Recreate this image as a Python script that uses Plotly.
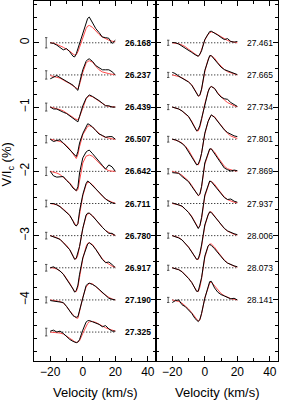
import plotly.graph_objects as go

# velocity grid (km/s)
VEL = [-20, -18, -16, -14, -12, -10, -8, -6, -5, -4, -3, -2, 0, 2, 3, 4, 6, 8, 10, 12, 14, 16, 18, 20]

# ---- left panel: observed (black) and model (red) Stokes V, in % ----
obs_26168 = [0, -0.01, -0.036, -0.07, -0.11, -0.09, -0.14, -0.21, -0.22, -0.17, -0.09, -0.01, 0.145, 0.33, 0.38, 0.40, 0.30, 0.22, 0.16, 0.09, 0.08, 0.07, -0.01, 0.04]
mod_26168 = [0, -0.005, -0.025, -0.045, -0.07, -0.1, -0.13, -0.175, -0.19, -0.185, -0.14, -0.07, 0.08, 0.22, 0.26, 0.27, 0.24, 0.18, 0.13, 0.09, 0.06, 0.04, 0.025, 0.015]
obs_26237 = [-0.06, -0.03, -0.01, -0.04, -0.07, -0.10, -0.12, -0.16, -0.19, -0.22, -0.24, -0.12, 0.08, 0.21, 0.24, 0.25, 0.21, 0.145, 0.11, 0.08, 0.08, 0.08, 0.05, 0]
mod_26237 = [-0.01, -0.02, -0.03, -0.05, -0.08, -0.105, -0.135, -0.17, -0.19, -0.21, -0.22, -0.15, 0.04, 0.18, 0.21, 0.22, 0.2, 0.135, 0.08, 0.047, 0.03, 0.02, 0.01, 0.005]
obs_26439 = [0, -0.03, -0.03, -0.06, -0.08, -0.10, -0.135, -0.165, -0.185, -0.21, -0.23, -0.145, 0.02, 0.135, 0.17, 0.19, 0.165, 0.135, 0.10, 0.06, 0.02, 0.02, 0, 0]
mod_26439 = [0, -0.01, -0.02, -0.04, -0.06, -0.09, -0.125, -0.16, -0.18, -0.19, -0.2, -0.155, 0, 0.125, 0.16, 0.175, 0.16, 0.125, 0.083, 0.047, 0.025, 0.01, 0.005, 0]
obs_26507 = [0, -0.036, -0.02, -0.01, -0.06, -0.115, -0.155, -0.22, -0.25, -0.27, -0.19, -0.06, 0.09, 0.19, 0.24, 0.23, 0.19, 0.135, 0.08, 0.06, 0.03, 0.04, 0.04, 0]
mod_26507 = [0, -0.01, -0.02, -0.035, -0.06, -0.1, -0.155, -0.23, -0.27, -0.3, -0.24, -0.115, 0.07, 0.17, 0.2, 0.21, 0.19, 0.135, 0.09, 0.05, 0.03, 0.015, 0.005, 0]
obs_26642 = [0, -0.07, -0.09, -0.08, -0.08, -0.14, -0.19, -0.26, -0.28, -0.30, -0.24, -0.025, 0.21, 0.30, 0.32, 0.33, 0.275, 0.21, 0.155, 0.095, 0.035, 0.10, 0.07, 0]
mod_26642 = [0, -0.01, -0.026, -0.05, -0.09, -0.13, -0.18, -0.245, -0.28, -0.305, -0.285, -0.13, 0.13, 0.235, 0.25, 0.255, 0.235, 0.18, 0.13, 0.08, 0.036, 0.01, 0.003, 0]
obs_26711 = [0, 0, -0.02, -0.05, -0.095, -0.135, -0.185, -0.275, -0.33, -0.35, -0.31, -0.12, 0.14, 0.31, 0.35, 0.33, 0.28, 0.22, 0.165, 0.115, 0.07, 0.036, 0.01, 0]
mod_26711 = [0, -0.005, -0.02, -0.045, -0.085, -0.13, -0.19, -0.27, -0.32, -0.35, -0.32, -0.16, 0.12, 0.29, 0.33, 0.33, 0.29, 0.23, 0.17, 0.115, 0.07, 0.04, 0.02, 0.005]
obs_26780 = [0, -0.015, -0.04, -0.057, -0.11, -0.16, -0.22, -0.32, -0.37, -0.35, -0.275, -0.17, 0.115, 0.32, 0.35, 0.35, 0.305, 0.245, 0.18, 0.13, 0.08, 0.036, 0.036, 0]
mod_26780 = [0, -0.01, -0.03, -0.06, -0.1, -0.15, -0.22, -0.31, -0.36, -0.36, -0.3, -0.17, 0.11, 0.3, 0.34, 0.345, 0.31, 0.25, 0.185, 0.13, 0.08, 0.045, 0.02, 0.005]
obs_26917 = [0, 0.015, -0.015, -0.05, -0.10, -0.17, -0.245, -0.33, -0.38, -0.35, -0.27, -0.10, 0.155, 0.325, 0.37, 0.39, 0.35, 0.285, 0.21, 0.13, 0.08, 0.09, 0.05, 0]
mod_26917 = [0, -0.003, -0.02, -0.05, -0.095, -0.16, -0.24, -0.33, -0.37, -0.37, -0.3, -0.15, 0.14, 0.33, 0.38, 0.39, 0.36, 0.29, 0.21, 0.14, 0.09, 0.05, 0.025, 0.01]
obs_27190 = [-0.01, -0.015, -0.026, -0.026, -0.04, -0.10, -0.18, -0.245, -0.26, -0.27, -0.26, -0.155, 0.06, 0.22, 0.25, 0.26, 0.24, 0.21, 0.165, 0.115, 0.06, 0.026, 0.01, 0]
mod_27190 = [0, -0.005, -0.012, -0.025, -0.05, -0.1, -0.17, -0.235, -0.26, -0.28, -0.285, -0.18, 0.04, 0.2, 0.24, 0.26, 0.25, 0.21, 0.16, 0.11, 0.07, 0.04, 0.015, 0]
obs_27325 = [0.015, 0.03, 0, 0.015, -0.02, -0.07, -0.115, -0.145, -0.16, -0.165, -0.155, -0.115, 0.03, 0.155, 0.175, 0.18, 0.16, 0.145, 0.12, 0.083, 0.10, 0.05, 0.015, 0.015]
mod_27325 = [0, -0.002, -0.005, -0.015, -0.03, -0.06, -0.09, -0.13, -0.15, -0.16, -0.155, -0.135, -0.02, 0.095, 0.135, 0.16, 0.165, 0.15, 0.12, 0.093, 0.067, 0.047, 0.03, 0.015]

# ---- right panel ----
obs_27461 = [0.005, 0, -0.02, -0.05, -0.08, -0.115, -0.15, -0.185, -0.2, -0.21, -0.175, -0.125, 0.05, 0.145, 0.175, 0.18, 0.155, 0.12, 0.083, 0.05, 0.065, 0.02, 0.01, 0.02]
mod_27461 = [0, -0.005, -0.015, -0.035, -0.06, -0.1, -0.14, -0.18, -0.2, -0.21, -0.18, -0.115, 0.04, 0.135, 0.16, 0.17, 0.155, 0.125, 0.09, 0.057, 0.036, 0.02, 0.01, 0]
obs_27665 = [0.04, 0.02, -0.02, -0.047, -0.078, -0.11, -0.16, -0.24, -0.29, -0.33, -0.31, -0.22, 0.07, 0.25, 0.30, 0.30, 0.24, 0.17, 0.12, 0.083, 0.062, 0.04, 0.03, 0.005]
mod_27665 = [0, -0.01, -0.025, -0.045, -0.07, -0.105, -0.155, -0.23, -0.28, -0.33, -0.32, -0.23, 0.05, 0.24, 0.29, 0.3, 0.26, 0.19, 0.13, 0.085, 0.05, 0.03, 0.015, 0]
obs_27734 = [0, -0.015, -0.03, -0.06, -0.10, -0.145, -0.235, -0.335, -0.37, -0.35, -0.285, -0.18, 0.05, 0.235, 0.30, 0.32, 0.29, 0.21, 0.155, 0.13, 0.12, 0.07, 0.04, 0.01]
mod_27734 = [0, -0.01, -0.03, -0.06, -0.1, -0.15, -0.22, -0.32, -0.37, -0.37, -0.31, -0.2, 0.05, 0.24, 0.3, 0.32, 0.29, 0.22, 0.16, 0.11, 0.07, 0.04, 0.02, 0.005]
obs_27801 = [0, -0.01, -0.036, -0.067, -0.114, -0.19, -0.285, -0.363, -0.40, -0.385, -0.32, -0.22, 0.093, 0.275, 0.34, 0.38, 0.34, 0.27, 0.21, 0.145, 0.104, 0.073, 0.052, 0.04]
mod_27801 = [0, -0.01, -0.03, -0.06, -0.105, -0.17, -0.26, -0.35, -0.39, -0.4, -0.34, -0.22, 0.08, 0.27, 0.34, 0.37, 0.35, 0.28, 0.21, 0.14, 0.09, 0.05, 0.025, 0.01]
obs_27869 = [-0.02, -0.02, -0.03, -0.08, -0.115, -0.16, -0.235, -0.31, -0.35, -0.375, -0.35, -0.235, 0.13, 0.295, 0.35, 0.35, 0.275, 0.2, 0.12, 0.052, 0.026, 0.005, 0.02, 0.01]
mod_27869 = [0, -0.01, -0.03, -0.06, -0.1, -0.15, -0.22, -0.3, -0.35, -0.38, -0.36, -0.25, 0.11, 0.29, 0.34, 0.35, 0.3, 0.22, 0.14, 0.08, 0.04, 0.02, 0.01, 0.005]
obs_27937 = [0.01, -0.005, -0.016, -0.04, -0.088, -0.14, -0.21, -0.29, -0.34, -0.39, -0.34, -0.22, 0.13, 0.30, 0.35, 0.34, 0.28, 0.21, 0.145, 0.093, 0.062, 0.07, 0.036, 0.02]
mod_27937 = [0, -0.008, -0.02, -0.045, -0.085, -0.135, -0.2, -0.29, -0.34, -0.38, -0.35, -0.24, 0.11, 0.29, 0.34, 0.345, 0.3, 0.23, 0.16, 0.1, 0.06, 0.035, 0.02, 0.01]
obs_28006 = [0, -0.015, -0.036, -0.067, -0.12, -0.18, -0.255, -0.327, -0.37, -0.36, -0.275, -0.145, 0.166, 0.32, 0.37, 0.36, 0.295, 0.235, 0.166, 0.114, 0.073, 0.047, 0.03, 0.015]
mod_28006 = [0, -0.01, -0.03, -0.065, -0.115, -0.175, -0.25, -0.33, -0.37, -0.37, -0.3, -0.17, 0.15, 0.32, 0.37, 0.37, 0.31, 0.24, 0.17, 0.11, 0.07, 0.04, 0.02, 0.01]
obs_28073 = [0, -0.015, -0.03, -0.062, -0.11, -0.166, -0.23, -0.327, -0.368, -0.363, -0.275, -0.155, 0.18, 0.337, 0.363, 0.348, 0.296, 0.233, 0.166, 0.114, 0.073, 0.047, 0.03, 0.016]
mod_28073 = [0, -0.01, -0.03, -0.06, -0.105, -0.16, -0.23, -0.32, -0.36, -0.37, -0.3, -0.17, 0.16, 0.33, 0.37, 0.37, 0.32, 0.25, 0.18, 0.12, 0.075, 0.045, 0.025, 0.01]
obs_28141 = [-0.04, -0.01, 0, -0.075, -0.104, -0.156, -0.21, -0.29, -0.32, -0.337, -0.30, -0.21, 0.026, 0.21, 0.285, 0.29, 0.187, 0.12, 0.083, 0.062, 0.036, 0.016, 0.026, 0]
mod_28141 = [0, -0.01, -0.025, -0.05, -0.09, -0.14, -0.2, -0.27, -0.3, -0.33, -0.31, -0.22, 0.03, 0.2, 0.26, 0.28, 0.22, 0.15, 0.1, 0.065, 0.04, 0.02, 0.01, 0]

LEFT_LABELS = ["26.168", "26.237", "26.439", "26.507", "26.642", "26.711", "26.780", "26.917", "27.190", "27.325"]
LEFT_OFFSETS = [0, -0.5, -1.0, -1.5, -2.0, -2.5, -3.0, -3.5, -4.0, -4.5]
LEFT_ERR = [0.08, 0.065, 0.062, 0.057, 0.065, 0.052, 0.052, 0.052, 0.047, 0.06]
LEFT_OBS = [obs_26168, obs_26237, obs_26439, obs_26507, obs_26642, obs_26711, obs_26780, obs_26917, obs_27190, obs_27325]
LEFT_MOD = [mod_26168, mod_26237, mod_26439, mod_26507, mod_26642, mod_26711, mod_26780, mod_26917, mod_27190, mod_27325]

RIGHT_LABELS = ["27.461", "27.665", "27.734", "27.801", "27.869", "27.937", "28.006", "28.073", "28.141"]
RIGHT_OFFSETS = [0, -0.5, -1.0, -1.5, -2.0, -2.5, -3.0, -3.5, -4.0]
RIGHT_ERR = [0.04, 0.04, 0.04, 0.045, 0.04, 0.04, 0.04, 0.04, 0.04]
RIGHT_OBS = [obs_27461, obs_27665, obs_27734, obs_27801, obs_27869, obs_27937, obs_28006, obs_28073, obs_28141]
RIGHT_MOD = [mod_27461, mod_27665, mod_27734, mod_27801, mod_27869, mod_27937, mod_28006, mod_28073, mod_28141]

ERR_X = -22.5
LABEL_X = 25
BASE_X = [-20, 20]

FONT = "Liberation Sans, Arial, Helvetica, sans-serif"
fig = go.Figure()
annotations = []

def add_panel(xa, ya, labels, offsets, errs, obs, mod, bold):
    for lab, off, err, o, m in zip(labels, offsets, errs, obs, mod):
        fig.add_trace(go.Scatter(x=BASE_X, y=[off, off], mode="lines",
                                 line=dict(color="black", width=1, dash="1px,2px"),
                                 xaxis=xa, yaxis=ya, hoverinfo="skip"))
        fig.add_trace(go.Scatter(x=VEL, y=[v + off for v in m], mode="lines",
                                 line=dict(color="#ff4a4a", width=1),
                                 xaxis=xa, yaxis=ya))
        fig.add_trace(go.Scatter(x=VEL, y=[v + off for v in o], mode="lines",
                                 line=dict(color="black", width=1),
                                 xaxis=xa, yaxis=ya))
        fig.add_trace(go.Scatter(x=[ERR_X], y=[off], mode="markers",
                                 marker=dict(size=1, color="rgba(0,0,0,0)"),
                                 error_y=dict(type="data", array=[err], symmetric=True,
                                              color="#333", thickness=0.8, width=1.2),
                                 xaxis=xa, yaxis=ya))
        txt = "<b>%s</b>" % lab if bold else lab
        annotations.append(dict(x=LABEL_X, y=off, xref=xa, yref=ya, text=txt,
                                showarrow=False, xanchor="left", yanchor="middle",
                                font=dict(size=8.5, color="black", family=FONT)))

add_panel("x", "y", LEFT_LABELS, LEFT_OFFSETS, LEFT_ERR, LEFT_OBS, LEFT_MOD, True)
add_panel("x2", "y2", RIGHT_LABELS, RIGHT_OFFSETS, RIGHT_ERR, RIGHT_OBS, RIGHT_MOD, False)

XRANGE = [-30, 45]
YRANGE = [-4.95, 0.65]

xcommon = dict(range=XRANGE, dtick=20, tick0=0, ticks="inside", ticklen=5, tickcolor="black",
               showline=True, linecolor="black", linewidth=1, mirror="ticks",
               showgrid=False, zeroline=False, automargin=False,
               minor=dict(dtick=10, ticks="inside", ticklen=3, tickcolor="black"),
               tickfont=dict(size=12, family=FONT, color="black"))
ycommon = dict(range=YRANGE, dtick=1, tick0=0, ticks="inside", ticklen=5, tickcolor="black",
               showline=True, linecolor="black", linewidth=1, mirror="ticks",
               showgrid=False, zeroline=False, automargin=False,
               minor=dict(dtick=0.2, ticks="inside", ticklen=3, tickcolor="black"),
               tickfont=dict(size=12, family=FONT, color="black"))

fig.update_layout(
    template="none",
    width=281, height=400,
    margin=dict(l=34, r=3, t=1, b=39, autoexpand=False),
    paper_bgcolor="white", plot_bgcolor="white",
    showlegend=False,
    xaxis=dict(domain=[0, 0.5], anchor="y", **xcommon),
    xaxis2=dict(domain=[0.5, 1], anchor="y2", **xcommon),
    yaxis=dict(domain=[0, 1], anchor="x", tickangle=-90, ticklabelstandoff=-1, **ycommon),
    yaxis2=dict(domain=[0, 1], anchor="x2", showticklabels=False, **ycommon),
    annotations=annotations + [
        dict(text="Velocity (km/s)", x=0.25, y=-0.088, xref="paper", yref="paper",
             showarrow=False, xanchor="center", yanchor="middle",
             font=dict(size=13, family=FONT, color="black")),
        dict(text="Velocity (km/s)", x=0.75, y=-0.088, xref="paper", yref="paper",
             showarrow=False, xanchor="center", yanchor="middle",
             font=dict(size=13, family=FONT, color="black")),
        dict(text="V/I<sub>c</sub> (%)", x=-0.108, y=0.545, xref="paper", yref="paper",
             showarrow=False, xanchor="center", yanchor="middle", textangle=-90,
             font=dict(size=13, family=FONT, color="black")),
    ],
)

fig.write_html("out.html", config={"displayModeBar": False},
               post_script="document.body.style.margin='0';document.body.style.overflow='hidden';")
